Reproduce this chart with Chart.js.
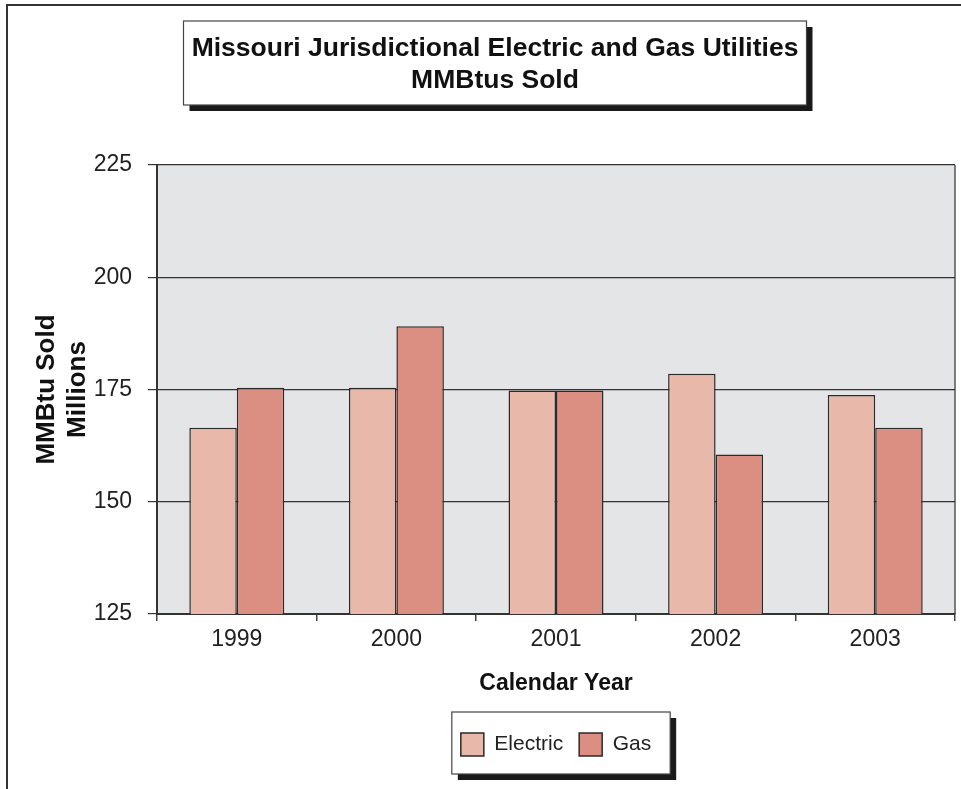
<!DOCTYPE html>
<html><head><meta charset="utf-8">
<script src="https://cdn.jsdelivr.net/npm/chart.js@4.4.1/dist/chart.umd.min.js"></script>
<style>html,body{margin:0;padding:0;background:#fff;overflow:hidden}canvas{display:block}</style>
</head><body>
<canvas id="c" width="961" height="789"></canvas>
<script>
const categories = ['1999', '2000', '2001', '2002', '2003'];
const electric = [166.5, 175.4, 174.8, 178.5, 173.8];
const gas = [175.4, 189.1, 174.8, 160.5, 166.5];
const seriesNames = ['Electric', 'Gas'];
const titleLines = ['Missouri Jurisdictional Electric and Gas Utilities', 'MMBtus Sold'];
const yTitleLines = ['MMBtu Sold', 'Millions'];
const xTitle = 'Calendar Year';
const yMin = 125, yMax = 225, yStep = 25;

Chart.defaults.font.family = "'Liberation Sans', Arial, Helvetica, sans-serif";

const decor = {
  id: 'decor',
  beforeDraw(chart) {
    const ctx = chart.ctx, a = chart.chartArea;
    ctx.save();
    ctx.fillStyle = '#fff';
    ctx.fillRect(0, 0, chart.width, chart.height);
    // outer frame
    ctx.strokeStyle = '#333';
    ctx.lineWidth = 2;
    ctx.beginPath();
    ctx.moveTo(7, chart.height); ctx.lineTo(7, 5); ctx.lineTo(chart.width, 5);
    ctx.stroke();
    // plot background
    ctx.fillStyle = '#e4e5e7';
    ctx.fillRect(a.left, a.top, a.right - a.left, a.bottom - a.top);
    ctx.strokeStyle = '#555';
    ctx.lineWidth = 1.5;
    ctx.beginPath();
    ctx.moveTo(a.right, a.top); ctx.lineTo(a.right, a.bottom);
    ctx.stroke();
    // title box
    const t = chart.titleBlock;
    const cx = (t.left + t.right) / 2;
    const bx = cx - 311.5, bw = 623, by = t.top, bh = 84;
    ctx.fillStyle = '#1a1a1a';
    ctx.fillRect(bx + 6, by + 6, bw, bh);
    ctx.fillStyle = '#fff';
    ctx.fillRect(bx, by, bw, bh);
    ctx.strokeStyle = '#444';
    ctx.lineWidth = 1.2;
    ctx.strokeRect(bx, by, bw, bh);
    // legend box
    const hb = chart.legend.legendHitBoxes;
    if (hb && hb.length) {
      const last = hb[hb.length - 1];
      const lx = hb[0].left - 9, ly = hb[0].top - 21;
      const lw = last.left + last.width + 19 - lx, lh = 62;
      ctx.fillStyle = '#1a1a1a';
      ctx.fillRect(lx + 6, ly + 6, lw, lh);
      ctx.fillStyle = '#fff';
      ctx.fillRect(lx, ly, lw, lh);
      ctx.strokeStyle = '#444';
      ctx.lineWidth = 1.2;
      ctx.strokeRect(lx, ly, lw, lh);
    }
    ctx.restore();
  }
};

new Chart(document.getElementById('c'), {
  type: 'bar',
  data: {
    labels: categories,
    datasets: [
      { label: seriesNames[0], data: electric, backgroundColor: '#e8b9ab', borderColor: '#2a2a2a', borderWidth: 1.5, borderSkipped: false },
      { label: seriesNames[1], data: gas, backgroundColor: '#da8f82', borderColor: '#2a2a2a', borderWidth: 1.5, borderSkipped: false }
    ]
  },
  options: {
    responsive: false,
    animation: false,
    devicePixelRatio: 1,
    categoryPercentage: 0.595,
    barPercentage: 1.0,
    layout: { padding: { left: 35, right: 6, top: 21, bottom: 23 } },
    plugins: {
      title: { display: true, text: titleLines, color: '#111',
        font: { size: 26.5, weight: 'bold', lineHeight: '32px' }, padding: { top: 12, bottom: 68 } },
      legend: { display: true, position: 'bottom', fullSize: false,
        labels: { boxWidth: 23, boxHeight: 23, padding: 16, color: '#222', font: { size: 21 } } },
      tooltip: { enabled: false }
    },
    scales: {
      x: {
        grid: { offset: true, drawOnChartArea: false, tickLength: 7, color: '#444', lineWidth: 1.5 },
        border: { color: '#333', width: 2 },
        ticks: { color: '#222', font: { size: 23 }, padding: 5 },
        title: { display: true, text: xTitle, color: '#111', font: { size: 23, weight: 'bold', lineHeight: '28px' }, padding: { top: 0, bottom: 19 } },
        afterFit(s) { s.height = 103; }
      },
      y: {
        min: yMin, max: yMax,
        ticks: { stepSize: yStep, color: '#222', font: { size: 23 }, padding: 16 },
        grid: { color: '#333', lineWidth: 1.2, tickLength: 9 },
        border: { color: '#333', width: 2 },
        title: { display: true, text: yTitleLines, color: '#111', font: { size: 26, weight: 'bold', lineHeight: '31px' }, padding: { top: -4, bottom: 0 } },
        afterFit(s) { s.width = 122; }
      }
    }
  },
  plugins: [decor]
});
</script>
</body></html>
